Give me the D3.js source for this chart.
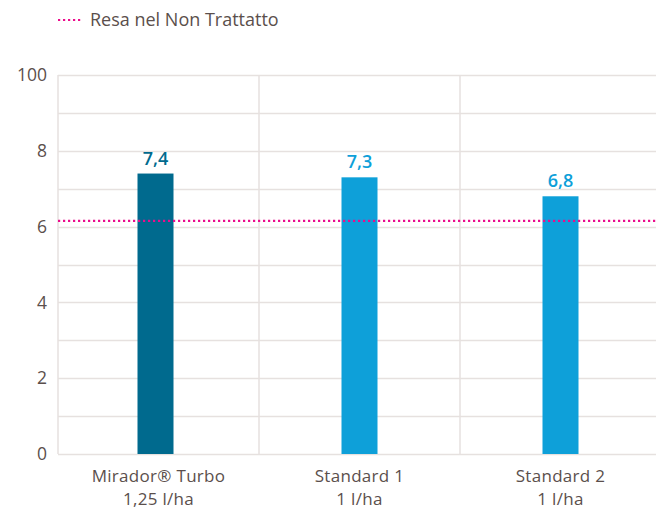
<!DOCTYPE html>
<html>
<head>
<meta charset="utf-8">
<script src="https://cdn.jsdelivr.net/npm/d3@7"></script>
<style>
body { margin: 0; background: #fff; }
text { font-family: "Open Sans", Lato, sans-serif; fill: #5b4f4c; }
</style>
</head>
<body>
<div></div>
<script>
var width = 656;
var height = 509;

var categories = [["Mirador® Turbo", "1,25 l/ha"], ["Standard 1", "1 l/ha"], ["Standard 2", "1 l/ha"]];
var values = [7.4, 7.3, 6.8];
var valueLabels = ["7,4", "7,3", "6,8"];
var colors = ["#006a8e", "#0ea0d9", "#0ea0d9"];
var gridTicks = [0, 1, 2, 3, 4, 5, 6, 7, 8, 9, 10];
var tickLabels = { 0: "0", 2: "2", 4: "4", 6: "6", 8: "8", 10: "100" };
var untreated = 6.15;
var legendLabel = "Resa nel Non Trattatto";

// plot area (note: "top" is reserved on window)
var plotLeft = 58, plotRight = 661, plotTop = 75, plotBottom = 454;

var svg = d3.select("div")
    .append("svg")
    .attr("width", width)
    .attr("height", height);

var x = d3.scaleBand()
    .domain(d3.range(categories.length))
    .range([plotLeft, plotRight])
    .paddingInner(0)
    .paddingOuter(0);

var y = d3.scaleLinear()
    .domain([0, 10])
    .range([plotBottom, plotTop]);

// horizontal grid
svg.append("g")
    .selectAll("line")
    .data(gridTicks)
    .enter()
    .append("line")
    .attr("x1", plotLeft)
    .attr("x2", plotRight)
    .attr("y1", function (d) { return Math.round(y(d)) + 0.5; })
    .attr("y2", function (d) { return Math.round(y(d)) + 0.5; })
    .attr("stroke", "#e6e1df")
    .attr("stroke-width", 1.5);

// vertical grid
svg.append("g")
    .selectAll("line")
    .data(d3.range(categories.length + 1))
    .enter()
    .append("line")
    .attr("x1", function (d) { return d < categories.length ? x(d) : plotRight; })
    .attr("x2", function (d) { return d < categories.length ? x(d) : plotRight; })
    .attr("y1", plotTop)
    .attr("y2", plotBottom)
    .attr("stroke", "#e6e1df")
    .attr("stroke-width", 1.5);

// y tick labels
var yAxis = d3.axisLeft(y)
    .tickValues(Object.keys(tickLabels).map(Number))
    .tickFormat(function (d) { return tickLabels[d]; })
    .tickSize(0)
    .tickPadding(11);

var ya = svg.append("g")
    .attr("transform", "translate(" + plotLeft + ",0)")
    .call(yAxis);
ya.select(".domain").remove();
ya.selectAll("text")
    .attr("font-size", 17.5)
    .attr("font-family", null)
    .attr("fill", null);

// bars (first one sits a touch left of its band centre, as in the original)
var bw = 36;
var barShift = -3;
svg.append("g")
    .selectAll("rect")
    .data(values)
    .enter()
    .append("rect")
    .attr("x", function (d, i) { return x(i) + x.bandwidth() / 2 - bw / 2 + (i === 0 ? barShift : 0); })
    .attr("y", function (d) { return y(d); })
    .attr("width", bw)
    .attr("height", function (d) { return plotBottom - y(d); })
    .attr("fill", function (d, i) { return colors[i]; });

// value labels
svg.append("g")
    .selectAll("text")
    .data(values)
    .enter()
    .append("text")
    .attr("x", function (d, i) { return x(i) + x.bandwidth() / 2 + (i === 0 ? barShift : 0); })
    .attr("y", function (d) { return y(d) - 9; })
    .attr("text-anchor", "middle")
    .attr("font-size", 18)
    .attr("font-weight", 600)
    .style("fill", function (d, i) { return colors[i]; })
    .text(function (d, i) { return valueLabels[i]; });

// untreated reference line
svg.append("line")
    .attr("x1", plotLeft)
    .attr("x2", plotRight)
    .attr("y1", y(untreated))
    .attr("y2", y(untreated))
    .attr("stroke", "#ec0c8c")
    .attr("stroke-width", 2.2)
    .attr("stroke-dasharray", "2.2,2.8");

// category labels
var cat = svg.append("g")
    .selectAll("text")
    .data(categories)
    .enter()
    .append("text")
    .attr("text-anchor", "middle")
    .attr("font-size", 17)
    .attr("letter-spacing", 0.3)
    .attr("x", function (d, i) { return x(i) + x.bandwidth() / 2; });
cat.append("tspan")
    .attr("x", function (d, i) { return x(i) + x.bandwidth() / 2; })
    .attr("y", 482)
    .text(function (d) { return d[0]; });
cat.append("tspan")
    .attr("x", function (d, i) { return x(i) + x.bandwidth() / 2; })
    .attr("y", 505)
    .text(function (d) { return d[1]; });

// legend
svg.append("line")
    .attr("x1", 58)
    .attr("x2", 81)
    .attr("y1", 20)
    .attr("y2", 20)
    .attr("stroke", "#ec0c8c")
    .attr("stroke-width", 2.2)
    .attr("stroke-dasharray", "2.2,2.8");
svg.append("text")
    .attr("x", 90)
    .attr("y", 26)
    .attr("font-size", 18)
    .text(legendLabel);
</script>
</body>
</html>
